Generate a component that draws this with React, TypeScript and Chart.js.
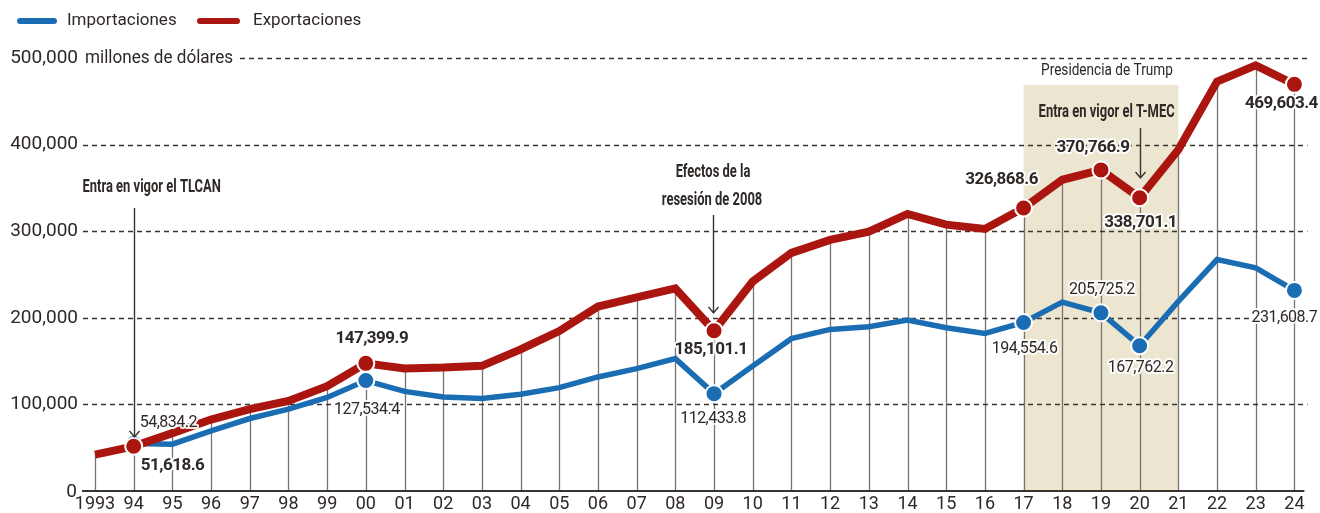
import React, { useEffect, useRef } from 'react';
import { Chart, registerables } from 'chart.js';

Chart.register(...registerables);

// ---------- DATA ----------
const years = [
  1993, 1994, 1995, 1996, 1997, 1998, 1999, 2000, 2001, 2002, 2003, 2004, 2005, 2006, 2007, 2008,
  2009, 2010, 2011, 2012, 2013, 2014, 2015, 2016, 2017, 2018, 2019, 2020, 2021, 2022, 2023, 2024,
];
const xTickLabels = [
  '1993', '94', '95', '96', '97', '98', '99', '00', '01', '02', '03', '04', '05', '06', '07', '08',
  '09', '10', '11', '12', '13', '14', '15', '16', '17', '18', '19', '20', '21', '22', '23', '24',
];
const importaciones = [
  null, 54834.2, 54100, 69500, 83700, 94500, 108000, 127534.4, 115000, 108500, 106800, 111700,
  119400, 131700, 141300, 152900, 112433.8, 144400, 175900, 186600, 189700, 197400, 188600, 182000,
  194554.6, 218100, 205725.2, 167762.2, 218900, 267300, 257700, 231608.7,
];
const exportaciones = [
  42000, 51618.6, 66800, 82500, 94500, 104000, 121000, 147399.9, 141500, 142500, 144500, 163600,
  184700, 213000, 223500, 233900, 185101.1, 242000, 275000, 290000, 299500, 320000, 307600, 302600,
  326868.6, 359400, 370766.9, 338701.1, 394000, 472700, 491500, 469603.4,
];
const yTicks = [0, 100000, 200000, 300000, 400000, 500000];
const yTickLabels = ['0', '100,000', '200,000', '300,000', '400,000', '500,000'];
const highlightYears = [1994, 2000, 2009, 2017, 2019, 2020, 2024];
const trumpYears = [2017, 2021];

// ---------- STYLE ----------
const BLUE = '#1b6db3';
const RED = '#ab150f';
const TEXT = '#2e2826';
const GRID = '#3a3431';
const DROP = '#7a7370';
const SHADE = '#ece6d0';
const FONT = 'Roboto';

// label placement relative to point (dx, dy), align, bold
const importLabels: Record<number, [number, number, CanvasTextAlign, boolean]> = {
  1994: [6, -21, 'left', false],
  2000: [1, 29, 'center', false],
  2009: [-1, 25, 'center', false],
  2017: [1, 26, 'center', false],
  2019: [1, -23, 'center', false],
  2020: [1, 22, 'center', false],
  2024: [-10, 28, 'center', false],
};
const exportLabels: Record<number, [number, number, CanvasTextAlign, boolean]> = {
  1994: [7, 19, 'left', true],
  2000: [6, -25, 'center', true],
  2009: [-3, 19, 'center', true],
  2017: [-22, -28, 'center', true],
  2019: [-8, -22, 'center', true],
  2020: [1, 25, 'center', true],
  2024: [-13, 19, 'center', true],
};

const fmt = (v: number) =>
  v.toLocaleString('en-US', { minimumFractionDigits: 1, maximumFractionDigits: 1 });

function condensedText(
  ctx: CanvasRenderingContext2D,
  text: string,
  x: number,
  y: number,
  font: string,
  sx: number,
  color: string,
  align: CanvasTextAlign = 'center',
) {
  ctx.save();
  ctx.font = font;
  ctx.fillStyle = color;
  ctx.textAlign = align;
  ctx.textBaseline = 'middle';
  ctx.translate(x, y);
  ctx.scale(sx, 1);
  ctx.fillText(text, 0, 0);
  ctx.restore();
}

function arrow(ctx: CanvasRenderingContext2D, x: number, y1: number, y2: number) {
  ctx.save();
  ctx.strokeStyle = '#3a3431';
  ctx.lineWidth = 1.4;
  ctx.beginPath();
  ctx.moveTo(x, y1);
  ctx.lineTo(x, y2);
  ctx.moveTo(x - 5, y2 - 6);
  ctx.lineTo(x, y2);
  ctx.lineTo(x + 5, y2 - 6);
  ctx.stroke();
  ctx.restore();
}

const backgroundPlugin = {
  id: 'bgDecor',
  beforeDatasetsDraw(chart: any) {
    const { ctx, scales } = chart;
    const xs = scales.x;
    const ys = scales.y;
    const area = chart.chartArea;
    ctx.save();
    // Trump shading
    const sx1 = xs.getPixelForValue(trumpYears[0]);
    const sx2 = xs.getPixelForValue(trumpYears[1]);
    const sTop = 85;
    ctx.fillStyle = SHADE;
    ctx.fillRect(sx1, sTop, sx2 - sx1, ys.getPixelForValue(0) - sTop);

    // drop lines
    ctx.strokeStyle = DROP;
    ctx.lineWidth = 1.3;
    years.forEach((yr, i) => {
      const px = Math.round(xs.getPixelForValue(yr)) + 0.5;
      ctx.beginPath();
      ctx.moveTo(px, ys.getPixelForValue(0));
      ctx.lineTo(px, ys.getPixelForValue(exportaciones[i]));
      ctx.stroke();
    });

    // dashed grid lines
    ctx.strokeStyle = GRID;
    ctx.lineWidth = 1.4;
    ctx.setLineDash([5, 4]);
    yTicks.forEach((t) => {
      if (t === 0) return;
      const py = Math.round(ys.getPixelForValue(t)) + 0.5;
      ctx.beginPath();
      ctx.moveTo(t === 500000 ? 240 : area.left, py);
      ctx.lineTo(area.right - 2, py);
      ctx.stroke();
    });
    ctx.setLineDash([]);

    // baseline
    ctx.strokeStyle = GRID;
    ctx.lineWidth = 2;
    const by = ys.getPixelForValue(0);
    ctx.beginPath();
    ctx.moveTo(area.left - 1, by);
    ctx.lineTo(xs.getPixelForValue(years[years.length - 1]) + 10, by);
    ctx.stroke();

    // y tick labels
    ctx.fillStyle = TEXT;
    ctx.font = `19px ${FONT}`;
    ctx.textAlign = 'right';
    ctx.textBaseline = 'middle';
    yTicks.forEach((t, i) => {
      const py = ys.getPixelForValue(t);
      ctx.fillText(yTickLabels[i], t === 0 ? 77 : 78, t === 0 ? py + 1 : py);
    });
    condensedText(ctx, 'millones de dólares', 85, ys.getPixelForValue(500000), `19px ${FONT}`, 0.9, TEXT, 'left');

    // x tick labels
    ctx.font = `18px ${FONT}`;
    ctx.textAlign = 'center';
    ctx.fillStyle = TEXT;
    years.forEach((yr, i) => {
      ctx.fillText(xTickLabels[i], xs.getPixelForValue(yr), 504);
    });

    // Trump label
    condensedText(ctx, 'Presidencia de Trump', (sx1 + sx2) / 2 + 6, 71, `17px ${FONT}`, 0.8, TEXT);
    ctx.restore();
  },
  afterDatasetsDraw(chart: any) {
    const { ctx, scales } = chart;
    const xs = scales.x;
    const ys = scales.y;
    ctx.save();
    // annotations
    const bold = `bold 18px ${FONT}`;
    const sx = 0.72;
    const x94 = xs.getPixelForValue(1994);
    condensedText(ctx, 'Entra en vigor el TLCAN', x94 + 18, 187, bold, sx, TEXT);
    arrow(ctx, Math.round(x94) + 0.5, 208, 437);

    const x09 = xs.getPixelForValue(2009);
    condensedText(ctx, 'Efectos de la', x09 - 1, 172, bold, sx, TEXT);
    condensedText(ctx, 'resesión de 2008', x09 - 2, 200, bold, sx, TEXT);
    arrow(ctx, Math.round(x09) - 0.5, 215, 313);

    const x20 = xs.getPixelForValue(2020);
    condensedText(ctx, 'Entra en vigor el T-MEC', x20 - 33, 112, bold, sx, TEXT);
    arrow(ctx, Math.round(x20) + 0.5, 128, 178);

    // value labels
    const drawLabels = (
      arr: (number | null)[],
      cfg: Record<number, [number, number, CanvasTextAlign, boolean]>,
    ) => {
      years.forEach((yr, i) => {
        const c = cfg[yr];
        const v = arr[i];
        if (!c || v == null) return;
        const [dx, dy, align, isBold] = c;
        const px = xs.getPixelForValue(yr) + dx;
        const py = ys.getPixelForValue(v) + dy;
        ctx.font = isBold ? `bold 17px ${FONT}` : `16px ${FONT}`;
        (ctx as any).letterSpacing = '-0.5px';
        ctx.textAlign = align;
        ctx.textBaseline = 'middle';
        ctx.lineJoin = 'round';
        ctx.strokeStyle = 'rgba(255,255,255,0.9)';
        ctx.lineWidth = 4;
        ctx.strokeText(fmt(v), px, py);
        ctx.fillStyle = TEXT;
        ctx.fillText(fmt(v), px, py);
      });
    };
    drawLabels(importaciones, importLabels);
    drawLabels(exportaciones, exportLabels);
    (ctx as any).letterSpacing = '0px';
    ctx.restore();
  },
  afterDraw(chart: any) {
    const { ctx } = chart;
    ctx.save();
    // legend
    const items: [string, string, number, number, number][] = [
      ['Importaciones', BLUE, 17, 57, 67],
      ['Exportaciones', RED, 197, 240, 253],
    ];
    items.forEach(([label, color, x1, x2, tx]) => {
      ctx.strokeStyle = color;
      ctx.lineWidth = 6;
      ctx.lineCap = 'round';
      ctx.beginPath();
      ctx.moveTo(x1 + 3, 21);
      ctx.lineTo(x2 - 3, 21);
      ctx.stroke();
      ctx.fillStyle = TEXT;
      ctx.font = `17px ${FONT}`;
      ctx.textAlign = 'left';
      ctx.textBaseline = 'middle';
      ctx.fillText(label, tx, 21);
    });
    ctx.restore();
  },
};

export default function App() {
  const ref = useRef<HTMLCanvasElement | null>(null);
  useEffect(() => {
    if (!ref.current) return;
    const radius = (ctx: any) =>
      highlightYears.includes(years[ctx.dataIndex]) ? 8.5 : 0;
    const chart = new Chart(ref.current, {
      type: 'line',
      data: {
        datasets: [
          {
            label: 'Importaciones',
            data: years.map((yr, i) => ({ x: yr, y: importaciones[i] })),
            borderColor: BLUE,
            backgroundColor: BLUE,
            borderWidth: 5.5,
            pointRadius: radius,
            pointBackgroundColor: BLUE,
            pointBorderColor: '#ffffff',
            pointBorderWidth: 2,
            tension: 0,
            spanGaps: false,
            clip: false,
            order: 1,
          } as any,
          {
            label: 'Exportaciones',
            data: years.map((yr, i) => ({ x: yr, y: exportaciones[i] })),
            borderColor: RED,
            backgroundColor: RED,
            borderWidth: 8,
            pointRadius: radius,
            pointBackgroundColor: RED,
            pointBorderColor: '#ffffff',
            pointBorderWidth: 2,
            tension: 0,
            clip: false,
            order: 0,
          } as any,
        ],
      },
      options: {
        responsive: false,
        animation: false,
        devicePixelRatio: 1,
        layout: { padding: { left: 83, right: 10, top: 58, bottom: 22 } },
        plugins: { legend: { display: false }, tooltip: { enabled: false } },
        events: [],
        scales: {
          x: { type: 'linear', display: false, min: 1992.69, max: 2024.39 },
          y: { type: 'linear', display: false, min: 0, max: 500000 },
        },
      },
      plugins: [backgroundPlugin],
    });
    return () => chart.destroy();
  }, []);
  return (
    <div style={{ position: 'fixed', left: 0, top: 0, width: 1320, height: 513, background: '#fff' }}>
      <canvas ref={ref} width={1320} height={513} style={{ width: 1320, height: 513 }} />
    </div>
  );
}
